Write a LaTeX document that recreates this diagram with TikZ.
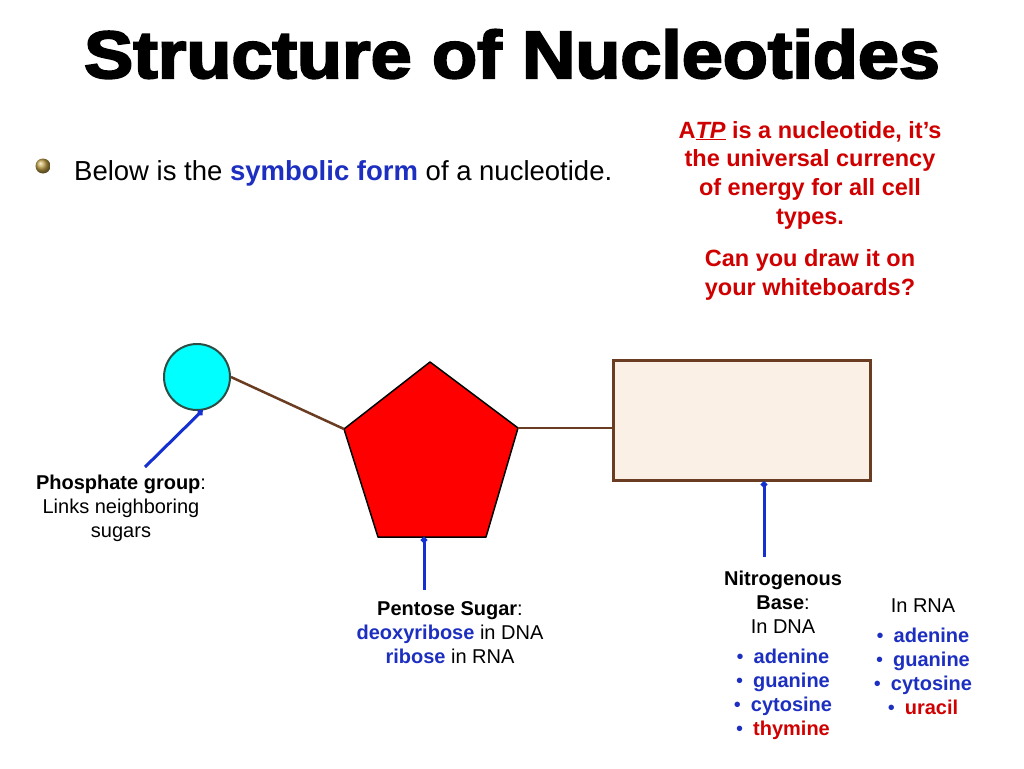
\documentclass[tikz,border=0pt]{standalone}
\usepackage{fontspec}
\setmainfont{Liberation Sans}
\newfontfamily\titlefont[FakeBold=3]{Liberation Sans Bold}
\usetikzlibrary{arrows.meta}
\definecolor{tblue}{HTML}{1C2FC0}
\definecolor{tred}{HTML}{D00000}
\definecolor{brn}{HTML}{6A3D22}
\definecolor{lnblue}{HTML}{1530D0}
\definecolor{linenc}{HTML}{FAF0E6}
\definecolor{circd}{HTML}{2E4D45}
\definecolor{aqua}{RGB}{0,255,255}
\definecolor{gold}{RGB}{190,160,70}
\tikzset{
  bond/.style={draw=brn, line width=2.5pt},
  pointer/.style={draw=lnblue, line width=3pt, -{Circle[length=6pt]}},
  lab/.style={align=center, font=\fontsize{20}{24}\selectfont},
  redtxt/.style={align=center, text=tred, font=\bfseries\fontsize{23.5}{28.7}\selectfont},
}
\newcommand{\bl}[1]{\textbf{\textcolor{tblue}{#1}}}
\newcommand{\rd}[1]{\textbf{\textcolor{tred}{#1}}}
\begin{document}
\begin{tikzpicture}[x=1pt,y=-1pt]
\useasboundingbox[fill=white] (0,0) rectangle (1024,768);
% title
\node[anchor=base, inner sep=0] (title) at (512,78) {\scalebox{1.1}[1]{\titlefont\fontsize{67}{70}\selectfont Structure of Nucleotides}};
% bullet line
\shade[ball color=gold] (43,166) circle (7.5);
\node[anchor=base west, inner sep=0, font=\fontsize{27.5}{30}\selectfont] (intro) at (74,180)
  {Below is the \bl{symbolic form} of a nucleotide.};
% red text
\node[redtxt] (atp) at (810,175) {A\underline{\textit{TP}} is a nucleotide, it’s\\the universal currency\\of energy for all cell\\types.};
\node[redtxt] (ask) at (810,275) {Can you draw it on\\your whiteboards?};
% phosphate
\node[circle, minimum size=66pt, inner sep=0, draw=circd, line width=2pt, fill=aqua] (phos) at (197,377) {};
% pentagon
\coordinate (p1) at (430,362);
\coordinate (p2) at (344,429);
\coordinate (p3) at (378,537);
\coordinate (p4) at (486,537);
\coordinate (p5) at (518,428);
\draw[fill=red, draw=black, line width=1.5pt, line join=round] (p1) -- (p2) -- (p3) -- (p4) -- (p5) -- cycle;
% base
\node[draw=brn, line width=3pt, fill=linenc, minimum width=257pt, minimum height=120pt, inner sep=0] (base) at (741.5,420) {};
% bonds
\draw[bond] (phos.east) -- (p2);
\draw[bond] (p5) -- (p5 -| base.west);
% labels
\node[lab] (plab) at (121,508) {\textbf{Phosphate group}:\\Links neighboring\\sugars};
\node[lab] (slab) at (450,633) {\textbf{Pentose Sugar}:\\\bl{deoxyribose} in DNA\\\bl{ribose} in RNA};
\node[lab] (blab) at (783,655) {\textbf{Nitrogenous}\\\textbf{Base}:\\In DNA\\[6pt]
  \textcolor{tblue}{•}\hspace{0.5em}\bl{adenine}\\
  \textcolor{tblue}{•}\hspace{0.5em}\bl{guanine}\\
  \textcolor{tblue}{•}\hspace{0.5em}\bl{cytosine}\\
  \textcolor{tblue}{•}\hspace{0.5em}\rd{thymine}};
\node[lab] (rlab) at (923,657) {In RNA\\[6pt]
  \textcolor{tblue}{•}\hspace{0.5em}\bl{adenine}\\
  \textcolor{tblue}{•}\hspace{0.5em}\bl{guanine}\\
  \textcolor{tblue}{•}\hspace{0.5em}\bl{cytosine}\\
  \textcolor{tblue}{•}\hspace{0.5em}\rd{uracil}};
% pointers
\coordinate (pa) at (145,467);
\coordinate (sa) at (424,590);
\coordinate (ba) at (764,557);
\draw[pointer] (pa) -- (phos.-81);
\draw[pointer] (sa) -- (sa |- p3);
\draw[pointer] (ba) -- (ba |- base.south);
\end{tikzpicture}
\end{document}
